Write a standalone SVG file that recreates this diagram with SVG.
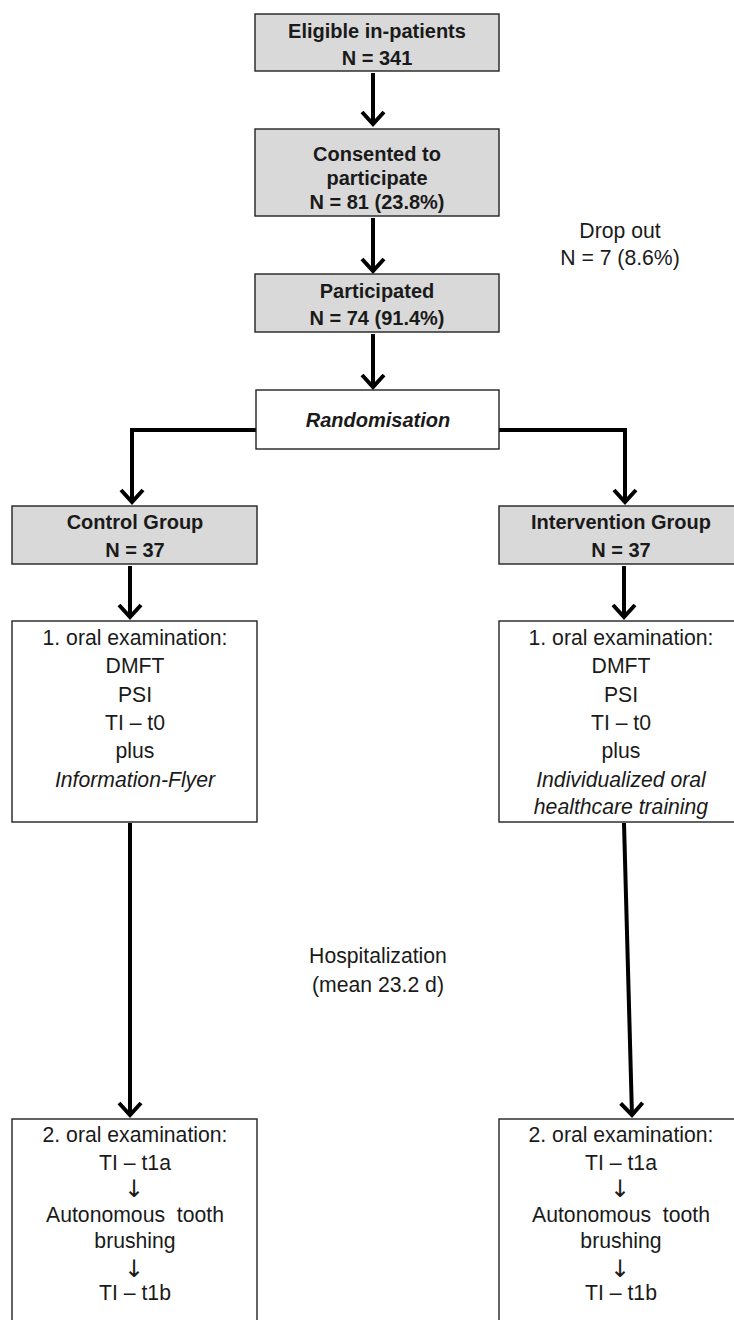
<svg xmlns="http://www.w3.org/2000/svg" width="734" height="1320" viewBox="0 0 734 1320">
<style>
.box{stroke:#222;stroke-width:1.4;fill:#fff}
.gray{fill:#d9d9d9}
text{font-family:"Liberation Sans",Arial,sans-serif;fill:#1a1a1a;text-anchor:middle;font-size:21.2px}
.b{font-weight:bold;font-size:20px}
.i{font-style:italic}
.pre{white-space:pre}
.ar{font-family:"DejaVu Sans",sans-serif;font-size:24px;fill:#1a1a1a}
.conn{fill:none;stroke:#000;stroke-width:4;stroke-linejoin:miter}
</style>
<defs>
<marker id="ah" markerUnits="userSpaceOnUse" markerWidth="40" markerHeight="40" viewBox="-20 -20 40 40" refX="0" refY="0" orient="auto" overflow="visible">
<path d="M-13,-11 L-1,0 L-13,11" fill="none" stroke="#000" stroke-width="4"/>
</marker>
</defs>
<rect width="734" height="1320" fill="#fff"/>
<g id="connectors">
<path class="conn" d="M373,73 V125" marker-end="url(#ah)"/>
<path class="conn" d="M373,218 V272" marker-end="url(#ah)"/>
<path class="conn" d="M373,334 V388" marker-end="url(#ah)"/>
<path class="conn" d="M256,430 H132 V503" marker-end="url(#ah)"/>
<path class="conn" d="M499,430 H625 V503" marker-end="url(#ah)"/>
<path class="conn" d="M130,566 V618" marker-end="url(#ah)"/>
<path class="conn" d="M624,566 V618" marker-end="url(#ah)"/>
<path class="conn" d="M130,823 V1116" marker-end="url(#ah)"/>
<path class="conn" d="M624,823 L632,1116" marker-end="url(#ah)"/>
</g>
<g id="eligible">
<rect class="box gray" x="255" y="14" width="244" height="57"/>
<text class="b" x="377" y="38">Eligible in-patients</text>
<text class="b" x="377" y="65">N = 341</text>
</g>
<g id="consented">
<rect class="box gray" x="255" y="129" width="244" height="87"/>
<text class="b" x="377" y="161">Consented to</text>
<text class="b" x="377" y="185">participate</text>
<text class="b" x="377" y="209">N = 81 (23.8%)</text>
</g>
<g id="participated">
<rect class="box gray" x="255" y="274" width="244" height="58"/>
<text class="b" x="377" y="298">Participated</text>
<text class="b" x="377" y="325">N = 74 (91.4%)</text>
</g>
<g id="dropout">
<text x="620" y="238">Drop out</text>
<text x="620" y="265">N = 7 (8.6%)</text>
</g>
<g id="randomisation">
<rect class="box" x="256" y="390" width="243" height="59"/>
<text class="b i" x="378" y="427">Randomisation</text>
</g>
<g id="control">
<rect class="box gray" x="12" y="506" width="245" height="58"/>
<text class="b" x="135" y="529">Control Group</text>
<text class="b" x="135" y="557">N = 37</text>
</g>
<g id="intervention">
<rect class="box gray" x="499" y="506" width="245" height="58"/>
<text class="b" x="621" y="529">Intervention Group</text>
<text class="b" x="621" y="557">N = 37</text>
</g>
<g id="exam1-control">
<rect class="box" x="12" y="621" width="245" height="201"/>
<text x="135" y="645">1. oral examination:</text>
<text x="135" y="673">DMFT</text>
<text x="135" y="702">PSI</text>
<text x="135" y="730">TI – t0</text>
<text x="135" y="758">plus</text>
<text class="i" x="135" y="787">Information-Flyer</text>
</g>
<g id="exam1-intervention">
<rect class="box" x="499" y="621" width="245" height="201"/>
<text x="621" y="645">1. oral examination:</text>
<text x="621" y="673">DMFT</text>
<text x="621" y="702">PSI</text>
<text x="621" y="730">TI – t0</text>
<text x="621" y="758">plus</text>
<text class="i" x="621" y="787">Individualized oral</text>
<text class="i" x="621" y="814">healthcare training</text>
</g>
<g id="hospitalization">
<text x="378" y="963">Hospitalization</text>
<text x="378" y="992">(mean 23.2 d)</text>
</g>
<g id="exam2-control">
<rect class="box" x="12" y="1119" width="245" height="220"/>
<text x="135" y="1142">2. oral examination:</text>
<text x="135" y="1170">TI – t1a</text>
<text class="ar" x="134" y="1197">↓</text>
<text class="pre" x="135" y="1222">Autonomous  tooth</text>
<text x="135" y="1248">brushing</text>
<text class="ar" x="134" y="1277">↓</text>
<text x="135" y="1300">TI – t1b</text>
</g>
<g id="exam2-intervention">
<rect class="box" x="499" y="1119" width="245" height="220"/>
<text x="621" y="1142">2. oral examination:</text>
<text x="621" y="1170">TI – t1a</text>
<text class="ar" x="620" y="1197">↓</text>
<text class="pre" x="621" y="1222">Autonomous  tooth</text>
<text x="621" y="1248">brushing</text>
<text class="ar" x="620" y="1277">↓</text>
<text x="621" y="1300">TI – t1b</text>
</g>
</svg>
